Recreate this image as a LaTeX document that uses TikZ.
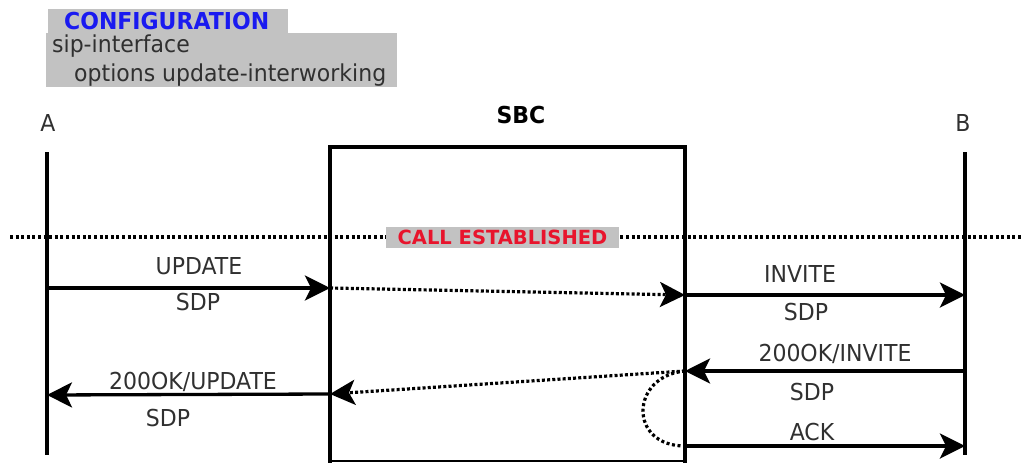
\documentclass[tikz,border=0pt]{standalone}
\usepackage{fontspec}
\setmainfont{DejaVu Sans}
\usetikzlibrary{arrows.meta}
\definecolor{txt}{HTML}{303030}
\definecolor{boxgray}{HTML}{C2C2C2}
\definecolor{cfgblue}{HTML}{1A1AF0}
\definecolor{callred}{HTML}{E8142C}
\begin{document}
\begin{tikzpicture}[x=1pt,y=-1pt,
  lbl/.style={text=txt,font=\fontsize{22}{24}\selectfont,inner sep=0pt,anchor=center,yscale=1.06},
  life/.style={line width=3.5pt,black},
  msg/.style={line width=3.3pt,black,-{Stealth[length=25pt,width=25pt,inset=6pt]}},
  dotmsg/.style={line width=3.2pt,black,dash pattern=on 3pt off 2.2pt,-{Stealth[length=25pt,width=25pt,inset=6pt]}},
  dotline/.style={line width=3.2pt,black,dash pattern=on 3pt off 2.6pt}]
\useasboundingbox (0,0) rectangle (1021,463);
% configuration
\fill[boxgray] (48,9) rectangle (288,33);
\fill[boxgray] (46,33) rectangle (397,87);
\node[font=\bfseries\fontsize{22}{24}\selectfont,text=cfgblue,inner sep=0pt,anchor=west,yscale=1.06] (cfg) at (64,21) {CONFIGURATION};
\node[lbl,anchor=west] (sip) at (52,46) {sip-interface};
\node[lbl,anchor=west] (opt) at (74,75) {options update-interworking};
% headers
\node[lbl] (A) at (48,123) {A};
\node[lbl] (B) at (963,123) {B};
\node[lbl,text=black,font=\bfseries\fontsize{22}{24}\selectfont] (SBC) at (521,115) {SBC};
% lifelines
\coordinate (Atop) at (47,152); \coordinate (Abot) at (47,455);
\coordinate (Btop) at (965,152); \coordinate (Bbot) at (965,455);
\draw[life] (Atop) -- (Abot);
\draw[life] (Btop) -- (Bbot);
% SBC box
\draw[line width=3.2pt] (330,463) -- (330,147) -- (685,147) -- (685,463);
\draw[line width=2.2pt] (330,461) -- (685,461);
% call established line
\coordinate (dl) at (10,237); \coordinate (dr) at (1021,237);
\draw[dotline] (dl) -- (dr);
\node[fill=boxgray,text=callred,font=\bfseries\fontsize{19.5}{22}\selectfont,inner sep=0pt,minimum width=233pt,minimum height=21pt] (call) at (502.5,237.5) {CALL ESTABLISHED};
% message points
\coordinate (a1) at (47,288); \coordinate (s1) at (330,288);
\coordinate (s2) at (685,295); \coordinate (b2) at (965,295);
\coordinate (b3) at (965,371); \coordinate (s3) at (685,371);
\coordinate (s4) at (330,394); \coordinate (a4) at (47,395);
\coordinate (s5) at (685,446); \coordinate (b5) at (965,446);
% messages
\draw[msg] (a1) -- (s1);
\node[lbl] (m1) at (199,266) {UPDATE};
\node[lbl] (m1s) at (198,302) {SDP};
\draw[dotmsg] (s1) -- (s2);
\draw[msg] (s2) -- (b2);
\node[lbl] (m2) at (800,274) {INVITE};
\node[lbl] (m2s) at (806,312) {SDP};
\draw[msg] (b3) -- (s3);
\node[lbl] (m3) at (835,354) {200OK/INVITE};
\node[lbl] (m3s) at (812,392) {SDP};
\draw[dotmsg] (s3) -- (s4);
\draw[msg] (s4) -- (a4);
\node[lbl] (m4) at (193,382) {200OK/UPDATE};
\node[lbl] (m4s) at (168,418) {SDP};
\draw[dotline] (s3) .. controls (630,376) and (628,446) .. (s5);
\draw[msg] (s5) -- (b5);
\node[lbl] (m5) at (812,432) {ACK};
\end{tikzpicture}
\end{document}
